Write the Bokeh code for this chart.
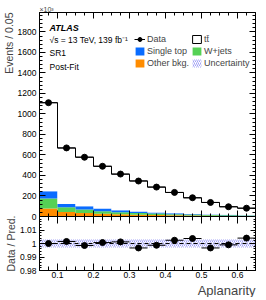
import math
from bokeh.plotting import figure
from bokeh.models import (ColumnDataSource, LinearAxis, SingleIntervalTicker, FixedTicker, Range1d,
                          Label, Legend, LegendItem, CustomJSTickFormatter, Span, Title)
from bokeh.layouts import column
from bokeh.embed import file_html
from bokeh.resources import INLINE

# ---------------- data ----------------
bin_lo = [0.05, 0.10, 0.15, 0.20, 0.25, 0.30, 0.35, 0.40, 0.45, 0.50, 0.55, 0.60]
bin_hi = [0.10, 0.15, 0.20, 0.25, 0.30, 0.35, 0.40, 0.45, 0.50, 0.55, 0.60, 0.65]
data = [1110, 669, 578, 490, 414, 346, 287, 235, 183, 137, 95, 81]
other_bkg = [78, 45, 35, 28, 22, 18, 15, 12, 10, 8, 6, 5]
wjets = [97, 46, 33, 24, 20, 17, 14, 11, 9, 7, 6, 5]
single_top = [71, 32, 32, 26, 19, 14, 11, 9, 6, 5, 4, 3]
ttbar = [864, 545, 479, 412, 352, 298, 247, 202, 157, 117, 79, 68]
ratio = [1.0000, 1.0015, 0.9985, 1.0007, 1.0012, 0.9967, 0.9987, 1.0024, 1.0037, 0.9967, 0.9990, 1.0040]
ratio_err = [0.0006, 0.0007, 0.0007, 0.0008, 0.0008, 0.0009, 0.0010, 0.0011, 0.0012, 0.0014, 0.0016, 0.0020]
unc = [0.0030, 0.0030, 0.0030, 0.0030, 0.0030, 0.0030, 0.0030, 0.0030, 0.0030, 0.0030, 0.0030, 0.0030]

FONT = "Liberation Sans"
C_STOP = "#0a6cff"
C_WJ = "#55d155"
C_OTH = "#ff8c00"
C_HATCH = "#7a7af0"

centers = [(a + b) / 2 for a, b in zip(bin_lo, bin_hi)]
b0 = [0.0] * len(data)
t1 = [a for a in other_bkg]
t2 = [a + b for a, b in zip(t1, wjets)]
t3 = [a + b for a, b in zip(t2, single_top)]
t4 = [a + b for a, b in zip(t3, ttbar)]

src = ColumnDataSource(dict(lo=bin_lo, hi=bin_hi, x=centers, data=data,
                            b0=b0, t1=t1, t2=t2, t3=t3, t4=t4,
                            tlo=[t * (1 - u) for t, u in zip(t4, unc)],
                            thi=[t * (1 + u) for t, u in zip(t4, unc)],
                            ratio=ratio, rlo=[r - e for r, e in zip(ratio, ratio_err)],
                            rhi=[r + e for r, e in zip(ratio, ratio_err)],
                            ulo=[1 - u for u in unc], uhi=[1 + u for u in unc]))

Y_END = 1990
FW = 216
BL = 25


def style_axis(ax, labels=True, size="8.5px", tin=6, tmin=3):
    ax.major_tick_in = tin
    ax.major_tick_out = 0
    ax.minor_tick_in = tmin
    ax.minor_tick_out = 0
    ax.axis_line_color = "black"
    ax.major_tick_line_color = "black"
    ax.minor_tick_line_color = "black"
    ax.major_label_text_font = FONT
    ax.major_label_text_color = "black"
    if labels:
        ax.major_label_text_font_size = size
        ax.major_label_standoff = 3
    else:
        ax.formatter = CustomJSTickFormatter(code="return '';")
        ax.major_label_text_font_size = "1px"
        ax.major_label_standoff = 0


# ---------------- main panel ----------------
p = figure(frame_width=FW, frame_height=204, x_range=Range1d(0.05, 0.65), y_range=Range1d(0, Y_END),
           output_backend="svg", toolbar_location=None,
           min_border_left=BL, min_border_right=4, min_border_top=12, min_border_bottom=6)
p.grid.visible = False
p.outline_line_color = "black"
p.border_fill_alpha = 0

r_oth = p.quad(left="lo", right="hi", bottom="b0", top="t1", source=src, fill_color=C_OTH, line_color=None)
r_wj = p.quad(left="lo", right="hi", bottom="t1", top="t2", source=src, fill_color=C_WJ, line_color=None)
r_st = p.quad(left="lo", right="hi", bottom="t2", top="t3", source=src, fill_color=C_STOP, line_color=None)
p.quad(left="lo", right="hi", bottom="t3", top="t4", source=src, fill_color="white", line_color=None)
r_unc = p.quad(left="lo", right="hi", bottom="tlo", top="thi", source=src, fill_alpha=0, line_color=None,
               hatch_pattern="/", hatch_color=C_HATCH, hatch_scale=4, hatch_weight=0.7)

step_x = bin_lo + [bin_hi[-1]]
step_y = t4 + [t4[-1]]
p.step(x=step_x, y=step_y, mode="after", line_color="black", line_width=1)

seg_d = p.segment(x0="lo", x1="hi", y0="data", y1="data", source=src, line_color="black", line_width=1)
pts_d = p.scatter(x="x", y="data", source=src, size=6, color="black")

nan = float("nan")
leg_tt = p.quad(left=[nan], right=[nan], bottom=[nan], top=[nan], fill_color="white",
                line_color="black", line_width=1)

p.xaxis.ticker = SingleIntervalTicker(interval=0.1, num_minor_ticks=4)
p.yaxis.ticker = SingleIntervalTicker(interval=200, num_minor_ticks=5)
style_axis(p.xaxis[0], labels=False)
style_axis(p.yaxis[0], labels=True)
ax_top = LinearAxis(ticker=SingleIntervalTicker(interval=0.1, num_minor_ticks=4))
style_axis(ax_top, labels=False)
p.add_layout(ax_top, "above")
ax_r = LinearAxis(ticker=SingleIntervalTicker(interval=200, num_minor_ticks=5))
style_axis(ax_r, labels=False)
p.add_layout(ax_r, "right")

p.add_layout(Title(text="\u00d710\u00b3", align="left", text_font=FONT, text_font_size="7px",
                   text_font_style="normal", standoff=0), "above")
p.add_layout(Title(text="Events / 0.05", align="right", text_font=FONT, text_font_size="10.5px",
                   text_font_style="normal", standoff=0), "left")

legend = Legend(items=[
    LegendItem(label="Data", renderers=[seg_d, pts_d]),
    LegendItem(label="Single top", renderers=[r_st]),
    LegendItem(label="Other bkg.", renderers=[r_oth]),
    LegendItem(label="t\u0074\u0304", renderers=[leg_tt]),
    LegendItem(label="W+jets", renderers=[r_wj]),
    LegendItem(label="Uncertainty", renderers=[r_unc]),
], ncols=2, location=(95, 148))
legend.background_fill_alpha = 0
legend.border_line_color = None
legend.padding = 0
legend.margin = 0
legend.spacing = 2
legend.label_standoff = 2
legend.glyph_width = 11
legend.glyph_height = 10
legend.label_height = 10
legend.label_text_font = FONT
legend.label_text_font_size = "9px"
legend.label_text_baseline = "middle"
p.add_layout(legend)

txt = dict(text_font=FONT, text_color="black")
p.add_layout(Label(x=0.05, y=Y_END, x_offset=10, y_offset=-15, text="ATLAS", text_font_style="bold italic",
                   text_align="left", text_baseline="alphabetic", text_font_size="9px", **txt))
p.add_layout(Label(x=0.05, y=Y_END, x_offset=10, y_offset=-27, text="\u221as = 13 TeV, 139 fb\u207b\u00b9",
                   text_align="left", text_baseline="alphabetic", text_font_size="8.5px", **txt))
p.add_layout(Label(x=0.05, y=Y_END, x_offset=10, y_offset=-40.5, text="SR1",
                   text_align="left", text_baseline="alphabetic", text_font_size="8.5px", **txt))
p.add_layout(Label(x=0.05, y=Y_END, x_offset=10, y_offset=-54, text="Post-Fit",
                   text_align="left", text_baseline="alphabetic", text_font_size="8.5px", **txt))

# ---------------- ratio panel ----------------
r = figure(frame_width=FW, frame_height=54, x_range=p.x_range, y_range=Range1d(0.98, 1.02),
           output_backend="svg", toolbar_location=None,
           min_border_left=BL, min_border_right=4, min_border_top=6, min_border_bottom=0)
r.grid.visible = False
r.outline_line_color = "black"
r.border_fill_alpha = 0
r.margin = (-12, 0, 0, 0)

r.quad(left="lo", right="hi", bottom="ulo", top="uhi", source=src, fill_alpha=0, line_color=None,
       hatch_pattern="/", hatch_color=C_HATCH, hatch_scale=4, hatch_weight=0.7)
r.add_layout(Span(location=1.0, dimension="width", line_color="black", line_dash="4 3", line_width=1))
r.segment(x0="lo", x1="hi", y0="ratio", y1="ratio", source=src, line_color="black", line_width=1)
r.segment(x0="x", x1="x", y0="rlo", y1="rhi", source=src, line_color="black", line_width=1)
r.scatter(x="x", y="ratio", source=src, size=6, color="black")

r.xaxis.ticker = SingleIntervalTicker(interval=0.1, num_minor_ticks=4)
ry_major = [0.98, 0.99, 1.0, 1.01]
ry_minor = [0.98 + 0.002 * i for i in range(21)]
r.yaxis.ticker = FixedTicker(ticks=ry_major, minor_ticks=ry_minor)
r.yaxis.formatter = CustomJSTickFormatter(code="return Number(tick.toFixed(3)).toString();")
style_axis(r.xaxis[0], labels=True, tin=7, tmin=4)
style_axis(r.yaxis[0], labels=True, tin=5, tmin=2)
r.xaxis[0].major_label_standoff = 1
rt = LinearAxis(ticker=SingleIntervalTicker(interval=0.1, num_minor_ticks=4))
style_axis(rt, labels=False, tin=7, tmin=4)
r.add_layout(rt, "above")
rr = LinearAxis(ticker=FixedTicker(ticks=ry_major, minor_ticks=ry_minor))
style_axis(rr, labels=False, tin=5, tmin=2)
r.add_layout(rr, "right")

r.add_layout(Title(text="Data / Pred.", align="center", text_font=FONT, text_font_size="10.5px",
                   text_font_style="normal", standoff=0), "left")
r.add_layout(Title(text="Aplanarity", align="right", text_font=FONT, text_font_size="13px",
                   text_font_style="normal", standoff=0), "below")

layout = column(p, r, spacing=0)
open("out.html", "w").write(file_html(layout, INLINE))
